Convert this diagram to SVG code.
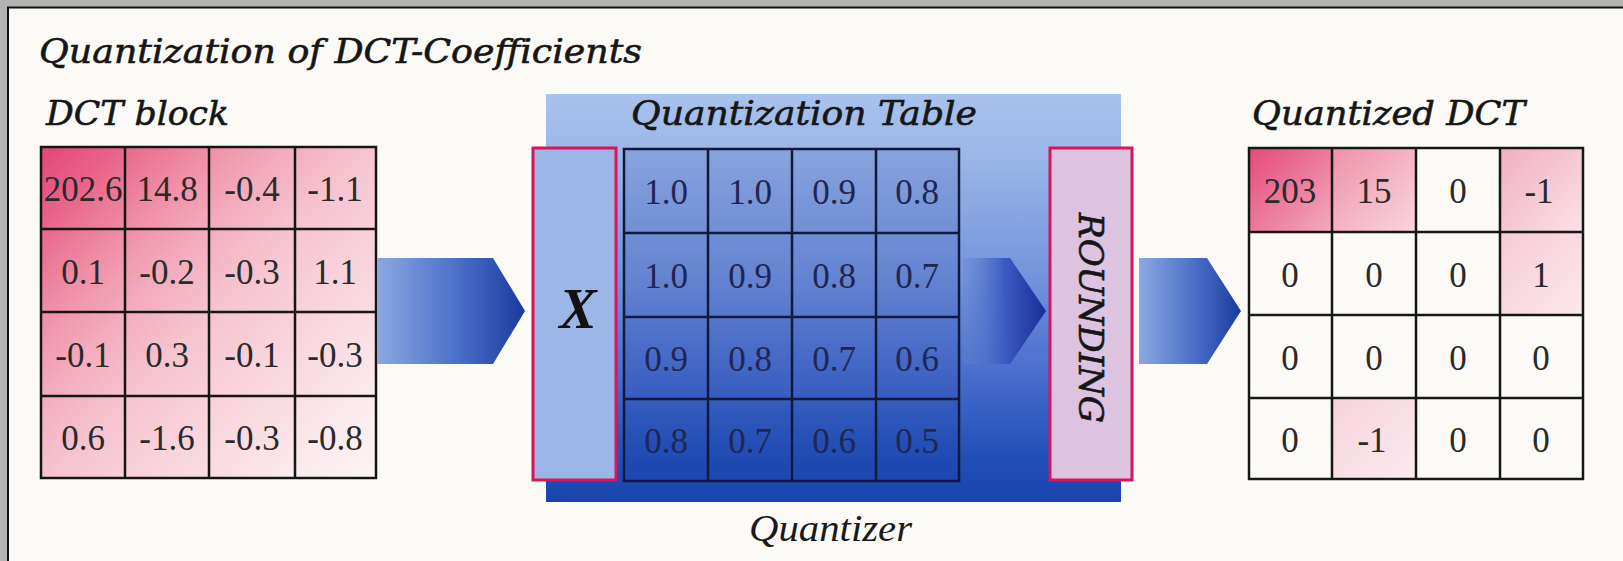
<svg xmlns="http://www.w3.org/2000/svg" width="1623" height="561" viewBox="0 0 1623 561">
<defs>
<style>
.hdr{font-family:"DejaVu Serif","Liberation Serif",serif;font-style:italic;fill:#161616;stroke:#161616;stroke-width:0.6}
.num{font-family:"Liberation Serif","Times New Roman",serif;font-size:35px;text-anchor:middle;fill:#2a2a2a}
.qnum{font-family:"Liberation Serif","Times New Roman",serif;font-size:35px;text-anchor:middle;fill:#1e2752}
.grid{fill:none;stroke:#161616;stroke-width:2.5}
.qgrid{fill:none;stroke:#121a3c;stroke-width:2.5}
.redbox{stroke:#d8145a;stroke-width:3}
</style>
<linearGradient id="dctGrad" gradientUnits="userSpaceOnUse" x1="41" y1="147" x2="376" y2="478">
<stop offset="0" stop-color="#e3457a"/>
<stop offset="0.12" stop-color="#e9648a"/>
<stop offset="0.25" stop-color="#ef8da6"/>
<stop offset="0.37" stop-color="#f3abbd"/>
<stop offset="0.5" stop-color="#f6c3cf"/>
<stop offset="0.62" stop-color="#f8d0da"/>
<stop offset="0.75" stop-color="#f9dde3"/>
<stop offset="0.87" stop-color="#fbebee"/>
<stop offset="1" stop-color="#fdf4f4"/>
</linearGradient>
<linearGradient id="boxGrad" x1="0" y1="0" x2="0" y2="1">
<stop offset="0" stop-color="#a8c2ec"/>
<stop offset="0.15" stop-color="#9bb7e8"/>
<stop offset="0.45" stop-color="#7393dc"/>
<stop offset="0.7" stop-color="#466bcb"/>
<stop offset="0.88" stop-color="#2350b8"/>
<stop offset="1" stop-color="#1a44ae"/>
</linearGradient>
<linearGradient id="arrowGrad" x1="0" y1="0" x2="1" y2="0">
<stop offset="0" stop-color="#8aa8e0"/>
<stop offset="0.55" stop-color="#4a6fc8"/>
<stop offset="1" stop-color="#1a3a9c"/>
</linearGradient>
<linearGradient id="arrowGrad2" x1="0" y1="0" x2="1" y2="0">
<stop offset="0" stop-color="#6688d4" stop-opacity="0.3"/>
<stop offset="0.5" stop-color="#3a5cc0"/>
<stop offset="1" stop-color="#1a2c98"/>
</linearGradient>
<linearGradient id="q203" x1="0" y1="0" x2="1" y2="1">
<stop offset="0" stop-color="#e4497b"/>
<stop offset="1" stop-color="#f4aabd"/>
</linearGradient>
<linearGradient id="q15" x1="0" y1="0" x2="1" y2="1">
<stop offset="0" stop-color="#ee90a8"/>
<stop offset="1" stop-color="#f9d6df"/>
</linearGradient>
<linearGradient id="qm1a" x1="0" y1="0" x2="1" y2="1">
<stop offset="0" stop-color="#f2aebf"/>
<stop offset="1" stop-color="#fae2e8"/>
</linearGradient>
<linearGradient id="q1" x1="0" y1="0" x2="1" y2="1">
<stop offset="0" stop-color="#f6cbd6"/>
<stop offset="1" stop-color="#fbe8ed"/>
</linearGradient>
<linearGradient id="qm1b" x1="0" y1="0" x2="1" y2="1">
<stop offset="0" stop-color="#f7d2dc"/>
<stop offset="1" stop-color="#fbeaef"/>
</linearGradient>
</defs>

<rect x="0" y="0" width="1623" height="561" fill="#fbfaf6"/>
<g id="frame">
<rect x="0" y="0" width="1623" height="7" fill="#b3b3b3"/>
<rect x="0" y="0" width="7" height="561" fill="#b3b3b3"/>
<line x1="7" y1="7.5" x2="1623" y2="7.5" stroke="#111" stroke-width="2"/>
<line x1="8" y1="7" x2="8" y2="561" stroke="#111" stroke-width="2"/>
</g>

<text id="title" class="hdr" x="39" y="63" font-size="33" textLength="603" lengthAdjust="spacingAndGlyphs">Quantization of DCT-Coefficients</text>

<g id="dct-block">
<text class="hdr" x="46" y="125" font-size="34" textLength="183" lengthAdjust="spacingAndGlyphs">DCT block</text>
<rect x="41" y="147" width="335" height="331" fill="url(#dctGrad)"/>
<rect class="grid" x="41" y="147" width="335" height="331"/>
<path class="grid" d="M125,147V478M209,147V478M295,147V478M41,229H376M41,312H376M41,396H376"/>
<text class="num" x="83" y="201">202.6</text>
<text class="num" x="167" y="201">14.8</text>
<text class="num" x="252" y="201">-0.4</text>
<text class="num" x="335" y="201">-1.1</text>
<text class="num" x="83" y="284">0.1</text>
<text class="num" x="167" y="284">-0.2</text>
<text class="num" x="252" y="284">-0.3</text>
<text class="num" x="335" y="284">1.1</text>
<text class="num" x="83" y="367">-0.1</text>
<text class="num" x="167" y="367">0.3</text>
<text class="num" x="252" y="367">-0.1</text>
<text class="num" x="335" y="367">-0.3</text>
<text class="num" x="83" y="450">0.6</text>
<text class="num" x="167" y="450">-1.6</text>
<text class="num" x="252" y="450">-0.3</text>
<text class="num" x="335" y="450">-0.8</text>
</g>

<g id="quantizer">
<rect x="546" y="94" width="575" height="408" fill="url(#boxGrad)"/>
<text class="hdr" x="631" y="125" font-size="33" textLength="346" lengthAdjust="spacingAndGlyphs">Quantization Table</text>
<text x="749" y="541" font-family="'Liberation Serif','Times New Roman',serif" font-style="italic" font-size="38" fill="#1a1a1a" textLength="163" lengthAdjust="spacingAndGlyphs">Quantizer</text>
</g>

<g id="multiply">
<rect class="redbox" x="533" y="148" width="83" height="332" fill="#9cb7e7"/>
<text x="578" y="328" font-family="'Liberation Serif','Times New Roman',serif" font-style="italic" font-weight="bold" font-size="56" text-anchor="middle" fill="#111">X</text>
</g>

<g id="quant-table">
<rect x="624" y="149" width="335" height="332" fill="#1a3a9a" fill-opacity="0.16"/>
<rect class="qgrid" x="624" y="149" width="335" height="332"/>
<path class="qgrid" d="M708,149V481M792,149V481M876,149V481M624,233H959M624,317H959M624,399H959"/>
<text class="qnum" x="666" y="204">1.0</text>
<text class="qnum" x="750" y="204">1.0</text>
<text class="qnum" x="834" y="204">0.9</text>
<text class="qnum" x="917" y="204">0.8</text>
<text class="qnum" x="666" y="288">1.0</text>
<text class="qnum" x="750" y="288">0.9</text>
<text class="qnum" x="834" y="288">0.8</text>
<text class="qnum" x="917" y="288">0.7</text>
<text class="qnum" x="666" y="371">0.9</text>
<text class="qnum" x="750" y="371">0.8</text>
<text class="qnum" x="834" y="371">0.7</text>
<text class="qnum" x="917" y="371">0.6</text>
<text class="qnum" x="666" y="453">0.8</text>
<text class="qnum" x="750" y="453">0.7</text>
<text class="qnum" x="834" y="453">0.6</text>
<text class="qnum" x="917" y="453">0.5</text>
</g>

<g id="rounding">
<rect class="redbox" x="1050" y="148" width="82" height="332" fill="#dcc3e0"/>
<text class="hdr" transform="translate(1079,318) rotate(90)" x="0" y="0" font-size="33" text-anchor="middle" textLength="210" lengthAdjust="spacingAndGlyphs">ROUNDING</text>
</g>

<g id="quantized-dct">
<text class="hdr" x="1252" y="125" font-size="33" textLength="273" lengthAdjust="spacingAndGlyphs">Quantized DCT</text>
<rect x="1249" y="148" width="83" height="84" fill="url(#q203)"/>
<rect x="1332" y="148" width="84" height="84" fill="url(#q15)"/>
<rect x="1500" y="148" width="83" height="84" fill="url(#qm1a)"/>
<rect x="1500" y="232" width="83" height="83" fill="url(#q1)"/>
<rect x="1332" y="398" width="84" height="81" fill="url(#qm1b)"/>
<rect class="grid" x="1249" y="148" width="334" height="331"/>
<path class="grid" d="M1332,148V479M1416,148V479M1500,148V479M1249,232H1583M1249,315H1583M1249,398H1583"/>
<text class="num" x="1290" y="203">203</text>
<text class="num" x="1374" y="203">15</text>
<text class="num" x="1458" y="203">0</text>
<text class="num" x="1539" y="203">-1</text>
<text class="num" x="1290" y="287">0</text>
<text class="num" x="1374" y="287">0</text>
<text class="num" x="1458" y="287">0</text>
<text class="num" x="1541" y="287">1</text>
<text class="num" x="1290" y="370">0</text>
<text class="num" x="1374" y="370">0</text>
<text class="num" x="1458" y="370">0</text>
<text class="num" x="1541" y="370">0</text>
<text class="num" x="1290" y="452">0</text>
<text class="num" x="1372" y="452">-1</text>
<text class="num" x="1458" y="452">0</text>
<text class="num" x="1541" y="452">0</text>
</g>

<g id="connectors">
<path d="M377,258H493L525,311L493,364H377Z" fill="url(#arrowGrad)"/>
<path d="M963,258H1010L1046,311L1010,364H963Z" fill="url(#arrowGrad2)"/>
<path d="M1139,258H1207L1241,311L1207,364H1139Z" fill="url(#arrowGrad)"/>
</g>
</svg>
